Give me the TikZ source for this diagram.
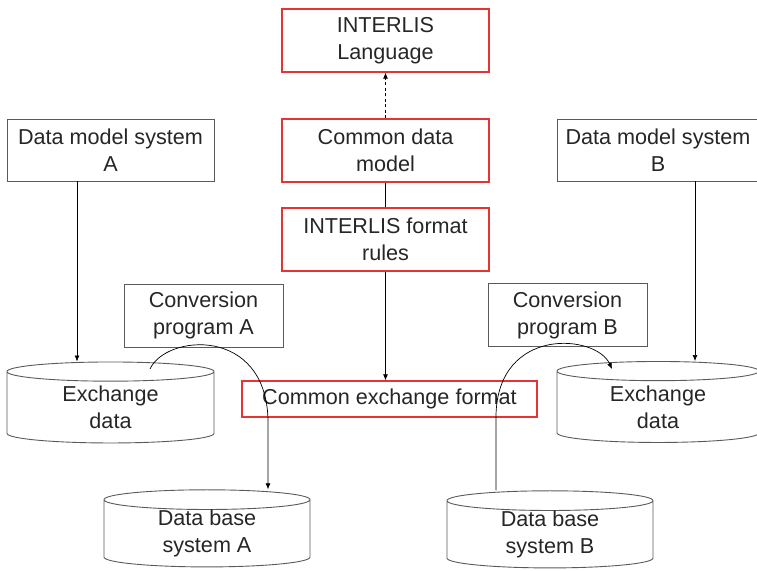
\documentclass[tikz,border=0pt]{standalone}
\usepackage{fontspec}
\setmainfont{Liberation Sans}
\usetikzlibrary{arrows.meta}
\usetikzlibrary{shapes.geometric}
\definecolor{boxred}{RGB}{228,52,52}
\definecolor{boxgray}{RGB}{90,90,90}

\begin{document}
\begin{tikzpicture}[x=1pt, y=-1pt,
    every node/.style={font=\fontsize{21.6}{27}\selectfont, text=black!85, align=center, inner sep=0pt},
    graybox/.style={draw=boxgray, line width=0.9pt, minimum height=62pt},
    redbox/.style={draw=boxred, line width=1.3pt, minimum height=63pt},
    store/.style={cylinder, shape border rotate=90, draw=boxgray, line width=0.9pt, aspect=0.2, minimum width=207pt, minimum height=80pt},
    link/.style={line width=0.7pt},
    arr/.style={link, -{Latex[length=6pt, width=5pt]}}]
  \useasboundingbox (0,0) rectangle (757,570);

  % centre column
  \node[redbox, minimum width=207pt] (lang) at (385.5,40.5) {INTERLIS\\Language};
  \node[redbox, minimum width=207pt] (cdm) at (385.5,150.5) {Common data\\model};
  \node[redbox, minimum width=207pt] (fmt) at (385.5,239.5) {INTERLIS format\\rules};
  \node[redbox, minimum width=295pt, minimum height=36pt] (cef) at (389.5,399) {Common exchange format};

  % data models
  \node[graybox, minimum width=207pt] (dmA) at (110.5,150) {Data model system\\A};
  \node[graybox, minimum width=202pt] (dmB) at (658,150) {Data model system\\B};

  % conversion programs
  \node[graybox, minimum width=159pt, minimum height=63pt] (cpA) at (203.5,315.5) {Conversion\\program A};
  \node[graybox, minimum width=159pt, minimum height=63pt] (cpB) at (567.5,315) {Conversion\\program B};

  % stores
  \node[store, minimum height=81pt] (exA) at (110.5,407.5) {Exchange\\data};
  \node[store, minimum width=202pt, minimum height=81pt] (exB) at (658,407) {Exchange\\data};
  \node[store, minimum width=206pt, minimum height=77pt] (dbA) at (207,533.5) {Data base\\system A};
  \node[store, minimum width=206pt, minimum height=77pt] (dbB) at (550,534.5) {Data base\\system B};

  % links
  \draw[arr, dash pattern=on 3pt off 2.5pt] (cdm) -- (lang);
  \draw[link] (cdm) -- (fmt);
  \draw[arr] (fmt.south) -- (fmt.south |- cef.north);
  \draw[arr] ([xshift=-33.5pt]dmA.south) -- ([xshift=-33.5pt]dmA.south |- exA.north);
  \draw[arr] ([xshift=37pt]dmB.south) -- ([xshift=37pt]dmB.south |- exB.north);

  \coordinate (cA) at (150,369);
  \coordinate (tA) at (268,420);
  \draw[arr] (cA) .. controls (166,334) and (266,326) .. (tA) -- (tA |- dbA.north);

  \coordinate (sB) at (496,415);
  \coordinate (eB) at (612,369);
  \draw[arr] (sB |- dbB.north) -- (sB) .. controls (498,326) and (596,334) .. (eB);
\end{tikzpicture}
\end{document}
